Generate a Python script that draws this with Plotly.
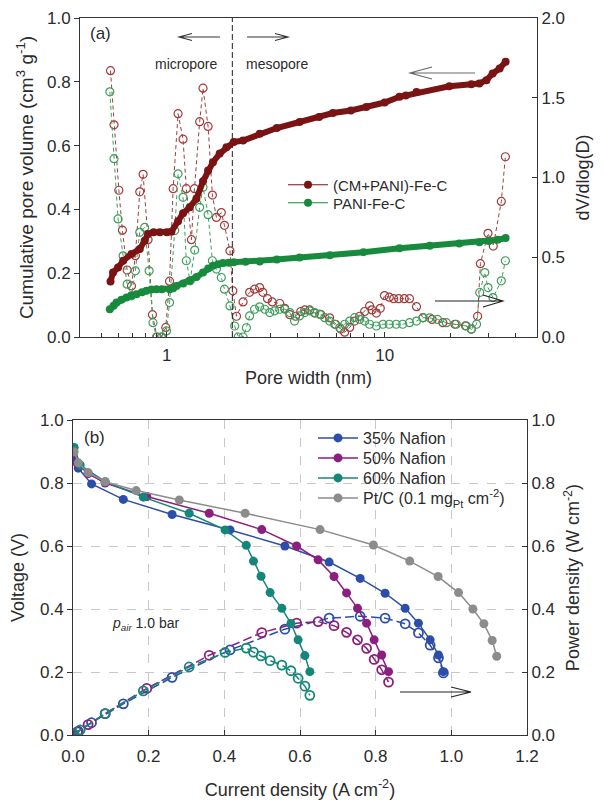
import plotly.graph_objects as go

# ---------------- Panel (a) data ----------------
cum_cm_x = [0.552, 0.567, 0.598, 0.631, 0.689, 0.752, 0.792, 0.821, 0.87, 0.93, 1.0, 1.05, 1.127, 1.188,
            1.275, 1.368, 1.467, 1.548, 1.63, 1.75, 1.88, 2.03, 2.24, 2.67, 3.2, 4.07, 5.0, 5.79, 7.0,
            8.24, 10.0, 11.7, 12.5, 14.0, 19.8, 25.0, 27.2, 29.3, 31.3, 33.7, 35.9]
cum_cm_y = [0.174, 0.202, 0.218, 0.239, 0.26, 0.276, 0.302, 0.323, 0.328, 0.328, 0.328, 0.33, 0.363, 0.388,
            0.407, 0.433, 0.488, 0.522, 0.548, 0.575, 0.595, 0.611, 0.616, 0.637, 0.655, 0.674, 0.69, 0.702, 0.71,
            0.721, 0.735, 0.753, 0.757, 0.768, 0.786, 0.792, 0.795, 0.805, 0.826, 0.842, 0.863]

cum_pani_x = [0.548, 0.57, 0.588, 0.62, 0.654, 0.69, 0.726, 0.77, 0.807, 0.85, 0.897, 0.95, 1.032, 1.07,
              1.108, 1.19, 1.275, 1.37, 1.467, 1.55, 1.63, 1.72, 1.81, 1.92, 2.03, 2.3, 2.67, 3.2, 4.07,
              5.6, 8.0, 11.7, 16.1, 22.0, 27.2, 30.0, 33.0, 35.9]
cum_pani_y = [0.087, 0.098, 0.108, 0.117, 0.124, 0.13, 0.134, 0.14, 0.145, 0.149, 0.15, 0.15, 0.15, 0.153,
              0.16, 0.168, 0.176, 0.188, 0.202, 0.215, 0.223, 0.228, 0.232, 0.233, 0.234, 0.236, 0.237, 0.243, 0.249,
              0.256, 0.266, 0.278, 0.286, 0.293, 0.297, 0.301, 0.305, 0.31]

dv_cm_x = [0.552, 0.573, 0.603, 0.626, 0.658, 0.689, 0.718, 0.752, 0.779, 0.821, 0.86, 0.903, 0.946, 0.99,
           1.03, 1.07, 1.127, 1.188, 1.23, 1.298, 1.34, 1.416, 1.467, 1.548, 1.62, 1.69, 1.78, 1.84, 1.95,
           2.01, 2.09, 2.24, 2.40, 2.53, 2.67, 2.76, 2.90, 3.05, 3.30, 3.48, 3.67, 3.90, 4.12, 4.30, 4.53,
           4.77, 5.10, 5.59, 5.95, 6.28, 6.55, 6.91, 7.28, 7.68, 8.09, 8.53, 8.75, 9.16, 9.55, 9.98, 10.5,
           11.0, 11.6, 12.3, 13.0, 14.0, 15.0, 16.5, 18.5, 21.0, 23.5, 25.0, 26.7, 27.5, 29.8, 31.5, 34.3, 35.8]
dv_cm_y = [1.67, 1.33, 0.92, 0.67, 0.42, 0.32, 0.51, 0.91, 1.02, 0.61, 0.14, 0.0, 0.0, 0.06,
           0.35, 0.93, 1.40, 1.24, 0.93, 0.61, 0.93, 1.35, 1.56, 1.32, 0.89, 0.75, 0.78, 0.70, 0.54,
           0.29, 0.13, 0.22, 0.28, 0.30, 0.31, 0.28, 0.24, 0.22, 0.21, 0.18, 0.14, 0.13, 0.16, 0.17, 0.17,
           0.15, 0.14, 0.12, 0.08, 0.05, 0.03, 0.06, 0.10, 0.13, 0.16, 0.195, 0.17, 0.15, 0.18, 0.26, 0.25,
           0.24, 0.24, 0.24, 0.24, 0.19, 0.12, 0.11, 0.09, 0.08, 0.07, 0.05, 0.13, 0.46, 0.65, 0.57, 0.85, 1.13]

dv_pani_x = [0.548, 0.573, 0.598, 0.631, 0.658, 0.689, 0.718, 0.752, 0.792, 0.83, 0.865, 0.897, 0.946, 0.997,
             1.03, 1.088, 1.127, 1.188, 1.23, 1.28, 1.344, 1.416, 1.467, 1.548, 1.62, 1.69, 1.78, 1.84, 1.95,
             2.05, 2.13, 2.24, 2.32, 2.40, 2.53, 2.67, 2.82, 2.97, 3.13, 3.30, 3.48, 3.67, 3.86, 4.07, 4.30,
             4.53, 4.77, 5.03, 5.31, 5.59, 5.90, 6.22, 6.55, 6.91, 7.28, 7.68, 8.09, 8.53, 9.16, 9.82, 10.5,
             11.3, 12.1, 13.0, 14.0, 15.0, 16.1, 17.5, 19.2, 21.3, 23.7, 25.0, 26.4, 27.3, 28.8, 29.8, 31.4,
             34.3, 35.8]
dv_pani_y = [1.537, 1.118, 0.74, 0.509, 0.331, 0.258, 0.415, 0.656, 0.687, 0.415, 0.09, 0.0, 0.0, 0.038,
             0.216, 0.667, 1.023, 0.876, 0.478, 0.352, 0.545, 0.813, 0.939, 0.767, 0.478, 0.426, 0.373, 0.30, 0.195,
             0.069, 0.0, 0.0, 0.058, 0.132, 0.174, 0.189, 0.174, 0.153, 0.164, 0.174, 0.174, 0.153, 0.10, 0.132, 0.153,
             0.164, 0.153, 0.143, 0.121, 0.10, 0.08, 0.058, 0.08, 0.10, 0.121, 0.111, 0.10, 0.08, 0.069, 0.08, 0.08,
             0.08, 0.08, 0.09, 0.10, 0.121, 0.12, 0.11, 0.09, 0.08, 0.069, 0.048, 0.08, 0.279, 0.404, 0.31, 0.247,
             0.352, 0.478]

# ---------------- Panel (b) data ----------------
j35 = [0.0, 0.014, 0.049, 0.133, 0.262, 0.415, 0.56, 0.677, 0.759, 0.825, 0.878, 0.913, 0.944, 0.966, 0.979]
v35 = [0.873, 0.847, 0.797, 0.748, 0.70, 0.651, 0.60, 0.549, 0.497, 0.45, 0.402, 0.355, 0.302, 0.254, 0.201]
p35 = [0.0, 0.012, 0.039, 0.099, 0.183, 0.270, 0.336, 0.371, 0.377, 0.371, 0.353, 0.324, 0.285, 0.245, 0.197]

j50 = [0.0, 0.012, 0.04, 0.085, 0.195, 0.36, 0.499, 0.591, 0.648, 0.69, 0.723, 0.752, 0.776, 0.796, 0.816, 0.834]
v50 = [0.89, 0.86, 0.83, 0.80, 0.757, 0.704, 0.652, 0.60, 0.556, 0.503, 0.451, 0.402, 0.355, 0.302, 0.254, 0.201]
p50 = [0.0, 0.010, 0.033, 0.068, 0.148, 0.253, 0.325, 0.355, 0.360, 0.347, 0.326, 0.302, 0.275, 0.240, 0.207, 0.168]

j60 = [0.003, 0.019, 0.085, 0.186, 0.307, 0.402, 0.458, 0.477, 0.497, 0.521, 0.552, 0.576, 0.595, 0.613, 0.626]
v60 = [0.913, 0.857, 0.804, 0.755, 0.704, 0.651, 0.602, 0.552, 0.504, 0.452, 0.402, 0.354, 0.302, 0.252, 0.201]
p60 = [0.003, 0.016, 0.068, 0.140, 0.216, 0.262, 0.276, 0.263, 0.251, 0.236, 0.222, 0.204, 0.180, 0.155, 0.126]

jpt = [0.003, 0.014, 0.04, 0.085, 0.167, 0.281, 0.455, 0.653, 0.794, 0.89, 0.965, 1.019, 1.057, 1.086, 1.108, 1.12]
vpt = [0.899, 0.864, 0.833, 0.804, 0.776, 0.746, 0.704, 0.652, 0.603, 0.552, 0.503, 0.452, 0.40, 0.353, 0.30, 0.25]

labels_a = ["(CM+PANI)-Fe-C", "PANI-Fe-C"]
labels_b = ["35% Nafion", "50% Nafion", "60% Nafion", "Pt/C (0.1 mg<sub>Pt</sub> cm<sup>-2</sup>)"]
boundary_nm = 2.0

# ---------------- styling ----------------
W, H = 604, 800
FONT = "Liberation Sans, Arial, sans-serif"
TXT = "#2b2b2b"
RED, RED_O = "#7a1414", "#a23c3c"
GRN, GRN_O = "#178a3e", "#3f9e5e"
BLUE, PURP, TEAL, GRAY = "#2c4ea8", "#8a1f80", "#15867a", "#8c8c8c"


def px(x):
    return x / W


def py(y):
    return 1 - y / H


fig = go.Figure()

# ----- panel (a): dV/dlog(D) on base axis y (right side), cumulative on y2 (left side, on top)
fig.add_trace(go.Scatter(x=dv_cm_x, y=dv_cm_y, xaxis="x", yaxis="y", mode="lines+markers",
                         line=dict(color=RED_O, width=1, dash="4px,3px"),
                         marker=dict(symbol="circle-open", size=8, color=RED_O, line=dict(width=1.2)),
                         showlegend=False))
fig.add_trace(go.Scatter(x=dv_pani_x, y=dv_pani_y, xaxis="x", yaxis="y", mode="lines+markers",
                         line=dict(color=GRN_O, width=1, dash="4px,3px"),
                         marker=dict(symbol="circle-open", size=8, color=GRN_O, line=dict(width=1.2)),
                         showlegend=False))
fig.add_trace(go.Scatter(x=[boundary_nm, boundary_nm], y=[0, 2], xaxis="x", yaxis="y", mode="lines",
                         line=dict(color="#222", width=1, dash="6px,3px"), showlegend=False))
fig.add_trace(go.Scatter(x=cum_cm_x, y=cum_cm_y, xaxis="x", yaxis="y2", mode="lines+markers",
                         line=dict(color=RED, width=6), marker=dict(size=8, color=RED),
                         showlegend=False))
fig.add_trace(go.Scatter(x=cum_pani_x, y=cum_pani_y, xaxis="x", yaxis="y2", mode="lines+markers",
                         line=dict(color=GRN, width=6), marker=dict(size=8, color=GRN),
                         showlegend=False))

# one legend object per entry so each row sits exactly where the reference has it
legend_rows_a = [185, 203]
legend_rows_b = [438, 458, 478, 498]
for i, (name, c) in enumerate(zip(labels_a, [RED, GRN])):
    fig.add_trace(go.Scatter(x=[None], y=[None], xaxis="x", yaxis="y2", mode="lines+markers", name=name,
                             line=dict(color=c, width=1.2), marker=dict(size=8, color=c),
                             legend=f"legend{i + 1 if i else ''}"))

# ----- panel (b): power on base axis y3 (right), voltage on y4 (left, on top)
for jj, pp, c in [(j35, p35, BLUE), (j50, p50, PURP), (j60, p60, TEAL)]:
    fig.add_trace(go.Scatter(x=jj, y=pp, xaxis="x2", yaxis="y3", mode="lines+markers",
                             line=dict(color=c, width=1.5, dash="9px,4px"),
                             marker=dict(symbol="circle-open", size=9, color=c, line=dict(width=1.8)),
                             showlegend=False))
for k, (jj, vv, c, name) in enumerate([(j35, v35, BLUE, labels_b[0]), (j50, v50, PURP, labels_b[1]),
                                       (j60, v60, TEAL, labels_b[2]), (jpt, vpt, GRAY, labels_b[3])]):
    fig.add_trace(go.Scatter(x=jj, y=vv, xaxis="x2", yaxis="y4", mode="lines+markers", name=name,
                             line=dict(color=c, width=1.5), marker=dict(size=9, color=c),
                             legend=f"legend{k + 3}"))

axfont = dict(family=FONT, size=17, color=TXT)
common = dict(showline=True, linecolor="#333", linewidth=1, tickfont=axfont, automargin=False,
              zeroline=False, tickcolor="#333")
tfont = dict(family=FONT, size=18, color=TXT)

legends = {}
for i, yrow in enumerate(legend_rows_a):
    key = "legend" if i == 0 else f"legend{i + 1}"
    legends[key] = dict(x=px(283), y=py(yrow), xanchor="left", yanchor="middle", bgcolor="rgba(0,0,0,0)",
                        font=dict(family=FONT, size=15, color=TXT), itemwidth=40)
for k, yrow in enumerate(legend_rows_b):
    legends[f"legend{k + 3}"] = dict(x=px(313), y=py(yrow), xanchor="left", yanchor="middle",
                                     bgcolor="rgba(0,0,0,0)", font=dict(family=FONT, size=16, color=TXT),
                                     itemwidth=40)

fig.update_layout(
    width=W, height=H, margin=dict(l=0, r=0, t=0, b=0),
    paper_bgcolor="white", plot_bgcolor="white",
    font=dict(family=FONT, color=TXT),
    xaxis=dict(type="log", range=[-0.398, 1.699], domain=[px(80), px(537)], anchor="y",
               tickvals=[1, 10], ticktext=["1", "10"], ticks="inside", ticklen=5, showgrid=False,
               mirror=True, ticklabelstandoff=3,
               minor=dict(tickvals=[0.5, 0.6, 0.7, 0.8, 0.9, 2, 3, 4, 5, 6, 7, 8, 9, 20, 30, 40],
                          ticks="inside", ticklen=4, tickcolor="#333", showgrid=False),
               title=dict(text="Pore width (nm)", font=tfont, standoff=6),
               **common),
    yaxis=dict(range=[0, 2], domain=[py(337), py(18)], anchor="x", side="right",
               tickvals=[0, 0.5, 1.0, 1.5, 2.0], tickformat=".1f", ticks="inside", ticklen=5, showgrid=False,
               title=dict(text="dV/dlog(D)", font=tfont, standoff=12),
               **common),
    yaxis2=dict(range=[0, 1], overlaying="y", anchor="x", side="left",
                tickvals=[0, 0.2, 0.4, 0.6, 0.8, 1.0], tickformat=".1f", ticks="outside", ticklen=5,
                showgrid=False,
                title=dict(text="Cumulative pore volume (cm<sup>3</sup> g<sup>-1</sup>)",
                           font=dict(family=FONT, size=19, color=TXT), standoff=8),
                **common),
    xaxis2=dict(range=[0, 1.2], domain=[px(73), px(527)], anchor="y3",
                tickvals=[0, 0.2, 0.4, 0.6, 0.8, 1.0, 1.2], tickformat=".1f", ticks="inside", ticklen=5,
                showgrid=True, gridcolor="#c8c8c8", griddash="dash", gridwidth=1, mirror=True,
                ticklabelstandoff=6,
                title=dict(text="Current density (A cm<sup>-2</sup>)", font=tfont, standoff=18),
                **common),
    yaxis3=dict(range=[0, 1], domain=[py(735), py(420)], anchor="x2", side="right",
                tickvals=[0, 0.2, 0.4, 0.6, 0.8, 1.0], tickformat=".1f", ticks="inside", ticklen=5,
                showgrid=True, gridcolor="#c8c8c8", griddash="dash", gridwidth=1,
                title=dict(text="Power density (W cm<sup>-2</sup>)", font=tfont, standoff=12),
                **common),
    yaxis4=dict(range=[0, 1], overlaying="y3", anchor="x2", side="left",
                tickvals=[0, 0.2, 0.4, 0.6, 0.8, 1.0], tickformat=".1f", ticks="outside", ticklen=5,
                showgrid=False,
                title=dict(text="Voltage (V)", font=tfont, standoff=10),
                **common),
    **legends,
)


def ann(x, y, text, size=15, xanchor="center"):
    fig.add_annotation(x=px(x), y=py(y), xref="paper", yref="paper", text=text, showarrow=False,
                       xanchor=xanchor, yanchor="middle", font=dict(family=FONT, size=size, color=TXT))


ann(88, 33, "(a)", 17, "left")
ann(186, 64, "micropore", 14)
ann(277, 64, "mesopore", 14)
ann(82, 437, "(b)", 17, "left")
ann(110, 624, "<i>p</i><sub><i>air</i></sub> 1.0 bar", 14, "left")


def arrow(x0, y0, x1, y1, head=14, half=4, color="#222"):
    d = 1 if x1 > x0 else -1
    path = (f"M {px(x0)},{py(y0)} L {px(x1)},{py(y1)} "
            f"M {px(x1 - d * head)},{py(y1 - half)} L {px(x1)},{py(y1)} L {px(x1 - d * head)},{py(y1 + half)}")
    fig.add_shape(type="path", path=path, xref="paper", yref="paper", line=dict(color=color, width=1.1))


arrow(220, 37, 179, 37, head=13, half=3.5, color="#333")
arrow(247, 37, 288, 37, head=13, half=3.5, color="#333")
arrow(475, 73, 410, 73, head=22, half=6, color="#666")
arrow(435, 301, 503, 301, head=20, half=6, color="#222")
arrow(400, 692, 471, 692, head=20, half=5, color="#222")

fig.write_html("out.html")
